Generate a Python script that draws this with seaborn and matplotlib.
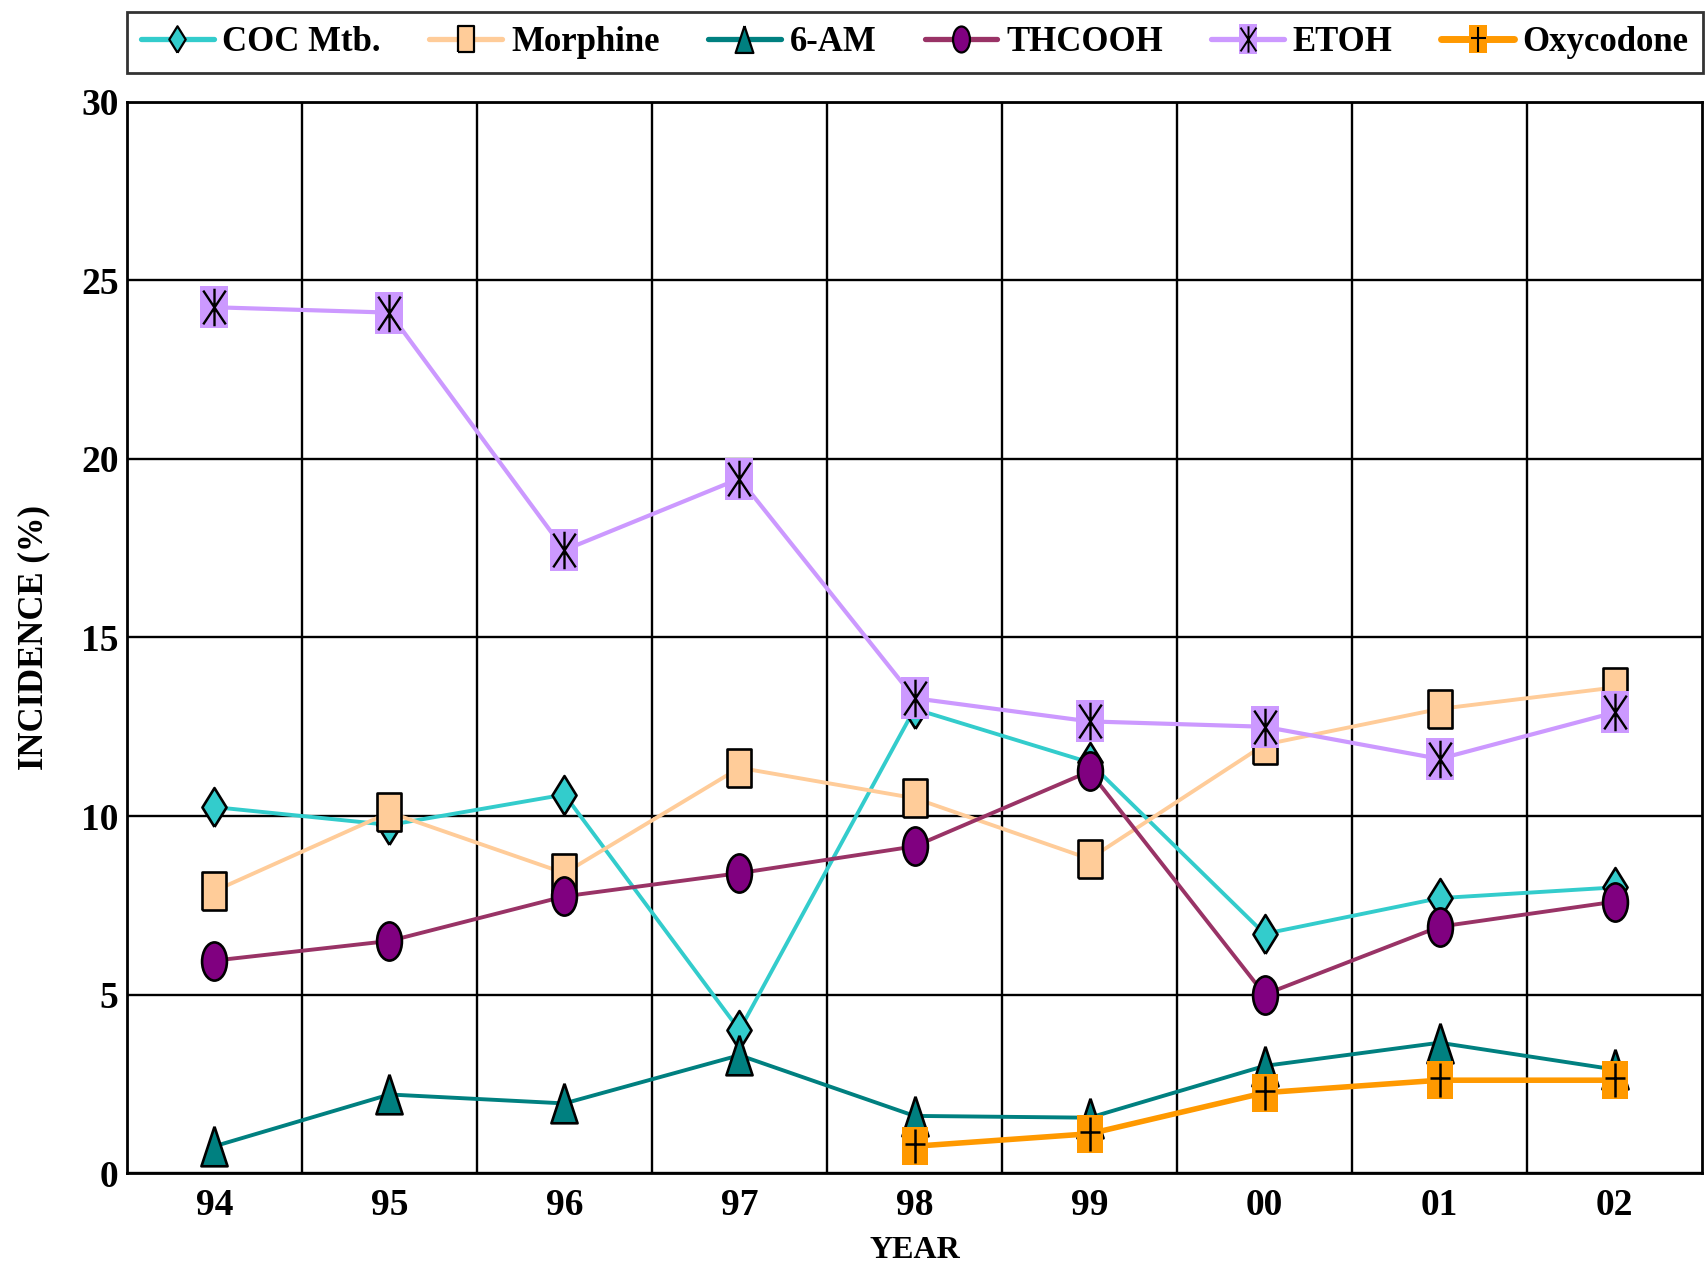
import matplotlib.pyplot as plt
import numpy as np
import seaborn as sns
from matplotlib.lines import Line2D
from matplotlib.markers import MarkerStyle
from matplotlib.path import Path
from matplotlib.transforms import Affine2D
from matplotlib.legend_handler import HandlerTuple

years = ["94", "95", "96", "97", "98", "99", "00", "01", "02"]
coc_mtb = [10.25, 9.75, 10.6, 4.0, 13.0, 11.5, 6.7, 7.7, 8.0]
morphine = [7.9, 10.1, 8.4, 11.35, 10.5, 8.8, 12.0, 13.0, 13.6]
am6 = [0.75, 2.2, 1.95, 3.3, 1.6, 1.55, 3.0, 3.65, 2.9]
thcooh = [5.95, 6.5, 7.75, 8.4, 9.15, 11.25, 5.0, 6.9, 7.6]
etoh = [24.25, 24.1, 17.45, 19.45, 13.3, 12.65, 12.5, 11.6, 12.9]
oxycodone = [np.nan, np.nan, np.nan, np.nan, 0.75, 1.1, 2.25, 2.6, 2.6]

sns.set_theme(style="white")
plt.rcParams['font.family'] = ['Liberation Serif', 'DejaVu Serif']
plt.rcParams['font.weight'] = 'bold'
for k in ['text.color', 'axes.labelcolor', 'xtick.color', 'ytick.color']:
    plt.rcParams[k] = 'black'


def shape(verts, codes=None):
    return MarkerStyle(Path(verts, codes))


# tall, narrow markers like the original
diamond = shape([(0, -1), (0.62, 0), (0, 1), (-0.62, 0), (0, -1)])
rect = shape([(-0.65, -1), (0.65, -1), (0.65, 1), (-0.65, 1), (-0.65, -1)])
tri = shape([(0, 1), (0.66, -1), (-0.66, -1), (0, 1)])
ellipse = MarkerStyle(Affine2D().scale(0.65, 1).transform_path(Path.unit_circle()))
star_codes = [Path.MOVETO, Path.LINETO] * 3
star = shape([(0, -1), (0, 1), (-0.6, -0.9), (0.6, 0.9), (-0.6, 0.9), (0.6, -0.9)], star_codes)
plus = shape([(0, -1), (0, 1), (-0.6, 0.1), (0.6, 0.1)], [Path.MOVETO, Path.LINETO] * 2)

x = np.arange(len(years))

fig = plt.figure(figsize=(17.06, 12.62), dpi=100)
ax = fig.add_axes([0.0744, 0.0705, 0.9233, 0.8487])

series = [
    ("COC Mtb.", coc_mtb, "#33CCCC", diamond, "#33CCCC", 28),
    ("Morphine", morphine, "#FFCC99", rect, "#FFCC99", 27.5),
    ("6-AM", am6, "#008080", tri, "#008080", 28.5),
    ("THCOOH", thcooh, "#993366", ellipse, "#800080", 27.5),
]

handles = []
for name, vals, lc, mk, fc, ms in series:
    sns.lineplot(x=x, y=vals, ax=ax, color=lc, lw=2.8, marker=mk, markersize=ms,
                 markerfacecolor=fc, markeredgecolor="black", markeredgewidth=1.9)
    handles.append(Line2D([], [], color=lc, lw=3.8, marker=mk, markersize=ms * 0.68,
                          markerfacecolor=fc, markeredgecolor="black", markeredgewidth=1.6))

# ETOH: filled purple box with black asterisk on top
sns.lineplot(x=x, y=etoh, ax=ax, color="#CC99FF", lw=3.0, marker=rect, markersize=30.5,
             markerfacecolor="#CC99FF", markeredgewidth=0)
sns.lineplot(x=x, y=etoh, ax=ax, color="black", linestyle='', marker=star, markersize=27,
             markeredgecolor="black", markeredgewidth=1.7)
handles.append((Line2D([], [], color="#CC99FF", lw=3.8, marker=rect, markersize=21,
                       markerfacecolor="#CC99FF", markeredgewidth=0),
                Line2D([], [], linestyle='', marker=star, markersize=19,
                       markeredgecolor="black", markeredgewidth=1.4)))

# Oxycodone: orange box with black plus
sns.lineplot(x=x, y=oxycodone, ax=ax, color="#FF9900", lw=4.0, marker=rect, markersize=28,
             markerfacecolor="#FF9900", markeredgewidth=0)
sns.lineplot(x=x, y=oxycodone, ax=ax, color="black", linestyle='', marker=plus, markersize=25,
             markeredgecolor="black", markeredgewidth=1.8)
handles.append((Line2D([], [], color="#FF9900", lw=5, marker=rect, markersize=20,
                       markerfacecolor="#FF9900", markeredgewidth=0),
                Line2D([], [], linestyle='', marker=plus, markersize=18,
                       markeredgecolor="black", markeredgewidth=1.5)))

labels = ["COC Mtb.", "Morphine", "6-AM", "THCOOH", "ETOH", "Oxycodone"]

ax.set_xlim(-0.5, len(years) - 0.5)
ax.set_ylim(0, 30)
ax.set_xticks(x)
ax.set_xticklabels(years)
ax.set_xticks(x[:-1] + 0.5, minor=True)
ax.set_yticks([0, 5, 10, 15, 20, 25, 30])
ax.grid(False)
ax.grid(which='minor', axis='x', color='black', lw=1.7)
ax.grid(which='major', axis='y', color='black', lw=1.7)
ax.tick_params(axis='both', which='both', length=0, labelsize=27)
ax.tick_params(axis='x', pad=11)
ax.tick_params(axis='y', pad=6)
for lab in ax.get_xticklabels() + ax.get_yticklabels():
    lab.set_fontweight('bold')
for sp in ax.spines.values():
    sp.set_color('black')
    sp.set_linewidth(2)
ax.set_xlabel("YEAR", fontsize=23, fontweight='bold', labelpad=9)
ax.set_ylabel("INCIDENCE (%)", fontsize=25, fontweight='bold', labelpad=22)

leg = fig.legend(handles, labels, loc='lower left', ncol=6, mode='expand',
                 bbox_to_anchor=(0.0744, 0.942, 0.9236, 0.051),
                 prop={'size': 25, 'weight': 'bold'}, handlelength=2.1,
                 handletextpad=0.25, columnspacing=1.0, borderaxespad=0,
                 frameon=True, fancybox=False, edgecolor='black',
                 handler_map={tuple: HandlerTuple(ndivide=1, pad=0)})
leg.get_frame().set_linewidth(2)

fig.savefig("out.png", dpi=100)
